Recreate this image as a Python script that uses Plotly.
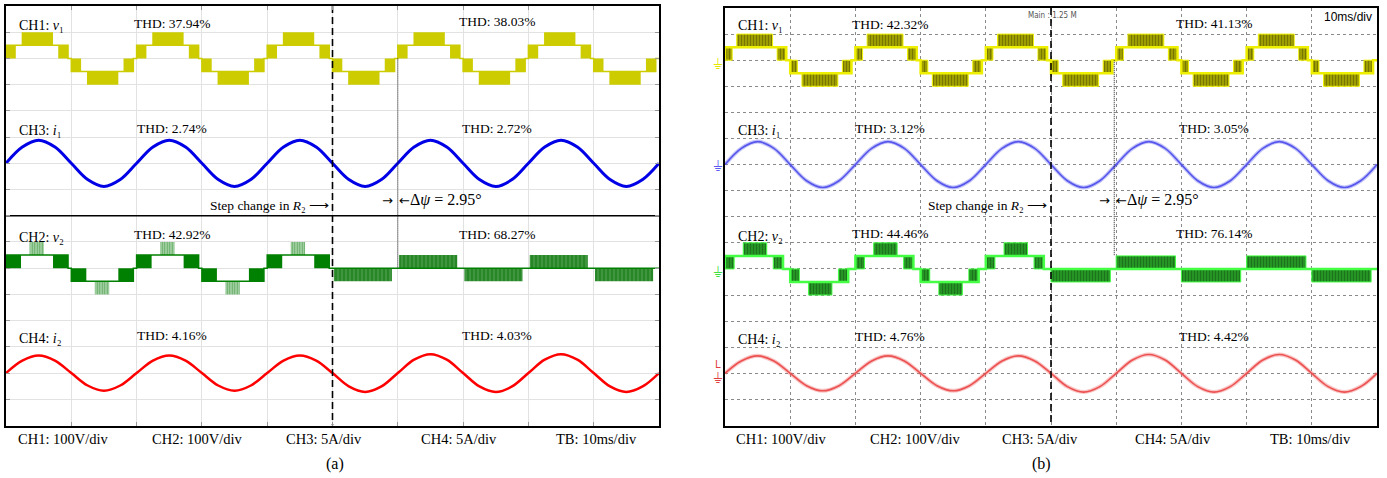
import plotly.graph_objects as go

W, H = 1387, 478

# ---------------- data ----------------
# time base: 10 divisions x 10 ms/div
T_MS = [0.0, 2.5, 5.0, 7.5, 10.0, 12.5, 15.0, 17.5, 20.0, 22.5, 25.0, 27.5, 30.0, 32.5,
        35.0, 37.5, 40.0, 42.5, 45.0, 47.5, 50.0, 52.5, 55.0, 57.5, 60.0, 62.5, 65.0,
        67.5, 70.0, 72.5, 75.0, 77.5, 80.0, 82.5, 85.0, 87.5, 90.0, 92.5, 95.0, 97.5, 100.0]

# half cycles of the 50 Hz fundamental (start ms, polarity, before/after the step)
HALF_T0 = [0, 10, 20, 30, 40, 50, 60, 70, 80, 90]
HALF_SIGN = [1, -1, 1, -1, 1, -1, 1, -1, 1, -1]
HALF_STAGE = ["pre", "pre", "pre", "pre", "pre", "post", "post", "post", "post", "post"]

STEP_T = 50.0          # step change in R2 (ms)
PHASE_T_A = 60.0       # delta-psi marker (ms), panel a
PHASE_T_B = 59.7       # delta-psi marker (ms), panel b

# channel scales (per div) and screen offsets (div)
VDIV, IDIV = 100.0, 5.0
OFF_CH1, OFF_CH3, OFF_CH2, OFF_CH4 = -2.0, -6.0, -10.0, -14.0

# PWM blocks inside one positive half cycle: [start ms, end ms, low V, high V, style]
V1_A_BLOCKS = [[0.0, 1.5, 0, 50, "solid"], [2.4, 7.2, 50, 100, "solid"], [8.0, 9.5, 0, 50, "solid"]]
V1_A_STAIR = [[0.0, 0], [0.0, 50], [9.5, 50], [9.5, 0], [10.0, 0]]
V2_A_PRE_BLOCKS = [[0.0, 2.3, 0, 50, "dense"], [3.6, 5.8, 50, 100, "sparse"], [7.2, 9.5, 0, 50, "dense"]]
V2_A_PRE_STAIR = [[0.0, 0], [0.0, 50], [9.5, 50], [9.5, 0], [10.0, 0]]
V2_A_POST_BLOCKS = [[0.2, 9.1, 0, 50, "mixed"]]
V2_A_POST_STAIR = [[0.0, 0], [10.0, 0]]

V1_B_BLOCKS = [[0.0, 1.1, 0, 50, "pwm"], [1.8, 7.3, 50, 100, "pwm"], [8.0, 9.4, 0, 50, "pwm"]]
V1_B_STAIR = [[0.0, 0], [0.0, 50], [9.4, 50], [9.4, 0], [10.0, 0]]
V2_B_PRE_BLOCKS = [[0.0, 1.4, 0, 50, "pwm"], [2.8, 6.4, 50, 100, "pwm"], [7.4, 8.9, 0, 50, "pwm"]]
V2_B_PRE_STAIR = [[0.0, 0], [0.0, 50], [8.9, 50], [8.9, 0], [10.0, 0]]
V2_B_POST_BLOCKS = [[0.0, 9.1, 0, 50, "pwm"]]
V2_B_POST_STAIR = [[0.0, 0], [10.0, 0]]

# currents (A), read at every 2.5 ms
I1_A = [0.0, 3.1, 4.4, 3.1, 0.0, -3.1, -4.4, -3.1, 0.0, 3.1, 4.4, 3.1, 0.0, -3.1, -4.4, -3.1,
        0.0, 3.1, 4.4, 3.1, 0.0, -3.1, -4.4, -3.1, 0.0, 3.1, 4.4, 3.1, 0.0, -3.1, -4.4, -3.1,
        0.0, 3.1, 4.4, 3.1, 0.0, -3.1, -4.4, -3.1, 0.0]
I2_A = [0.0, 2.37, 3.35, 2.37, 0.0, -2.37, -3.35, -2.37, 0.0, 2.37, 3.35, 2.37, 0.0, -2.37,
        -3.35, -2.37, 0.0, 2.37, 3.35, 2.37, 0.0, -2.55, -3.6, -2.55, 0.0, 2.55, 3.6, 2.55,
        0.0, -2.55, -3.6, -2.55, 0.0, 2.55, 3.6, 2.55, 0.0, -2.55, -3.6, -2.55, 0.0]
I1_B = [0.0, 3.1, 4.4, 3.1, 0.0, -3.1, -4.4, -3.1, 0.0, 3.1, 4.4, 3.1, 0.0, -3.1, -4.4, -3.1,
        0.0, 3.1, 4.4, 3.1, 0.0, -3.1, -4.4, -3.1, 0.0, 3.1, 4.4, 3.1, 0.0, -3.1, -4.4, -3.1,
        0.0, 3.1, 4.4, 3.1, 0.0, -3.1, -4.4, -3.1, 0.0]
I2_B = [0.0, 2.37, 3.35, 2.37, 0.0, -2.37, -3.35, -2.37, 0.0, 2.37, 3.35, 2.37, 0.0, -2.37,
        -3.35, -2.37, 0.0, 2.37, 3.35, 2.37, 0.0, -2.55, -3.6, -2.55, 0.0, 2.55, 3.6, 2.55,
        0.0, -2.55, -3.6, -2.55, 0.0, 2.55, 3.6, 2.55, 0.0, -2.55, -3.6, -2.55, 0.0]

THD_A = {"v1": ["37.94%", "38.03%"], "i1": ["2.74%", "2.72%"],
         "v2": ["42.92%", "68.27%"], "i2": ["4.16%", "4.03%"]}
THD_B = {"v1": ["42.32%", "41.13%"], "i1": ["3.12%", "3.05%"],
         "v2": ["44.46%", "76.14%"], "i2": ["4.76%", "4.42%"]}
SCALE_LABELS = ["CH1: 100V/div", "CH2: 100V/div", "CH3: 5A/div", "CH4: 5A/div", "TB: 10ms/div"]
DPSI = "2.95°"

# ---------------- styles ----------------
STYLE_A = {
    "solid": dict(color="#cccc00", line=dict(width=0)),
    "dense": dict(color="#008000", line=dict(width=0)),
    "sparse": dict(color="#c4e2c4", line=dict(width=0),
                   pattern=dict(shape="|", fgcolor="#067606", bgcolor="#c4e2c4", size=2.5, solidity=0.6)),
    "mixed": dict(color="#007800", line=dict(width=0),
                  pattern=dict(shape="|", fgcolor="#007000", bgcolor="#4f9f4f", size=4, solidity=0.7)),
}
STYLE_B1 = {"pwm": dict(color="#d8d800", line=dict(width=1, color="#f2f200"),
                        pattern=dict(shape="|", fgcolor="#1c1c00", bgcolor="#d0d000", size=3, solidity=0.72))}
STYLE_B2 = {"pwm": dict(color="#30d030", line=dict(width=1, color="#44ff44"),
                        pattern=dict(shape="|", fgcolor="#082808", bgcolor="#30c030", size=3, solidity=0.72))}


def voltage_traces(blocks, stairs, styles, offset, xa, ya, lcolor, lwidth):
    bars = {}
    sx, sy = [], []
    for t0, sgn, stage in zip(HALF_T0, HALF_SIGN, HALF_STAGE):
        for s, e, lo, hi, sty in blocks[stage]:
            a, b = (lo, hi) if sgn > 0 else (-hi, -lo)
            d = bars.setdefault(sty, {"x": [], "w": [], "b": [], "h": []})
            d["x"].append(t0 + (s + e) / 2)
            d["w"].append(e - s)
            d["b"].append(offset + a / VDIV)
            d["h"].append((b - a) / VDIV)
        for dt, lv in stairs[stage]:
            sx.append(t0 + dt)
            sy.append(offset + sgn * lv / VDIV)
    out = []
    for sty, d in bars.items():
        out.append(go.Bar(x=d["x"], y=d["h"], base=d["b"], width=d["w"], marker=styles[sty],
                          xaxis=xa, yaxis=ya, hoverinfo="skip", showlegend=False))
    out.append(go.Scatter(x=sx, y=sy, mode="lines", line=dict(color=lcolor, width=lwidth),
                          xaxis=xa, yaxis=ya, hoverinfo="skip", showlegend=False))
    return out


def current_trace(vals, offset, xa, ya, color, width):
    return go.Scatter(x=T_MS, y=[offset + v / IDIV for v in vals], mode="lines",
                      line=dict(color=color, width=width, shape="spline", smoothing=1.0),
                      xaxis=xa, yaxis=ya, hoverinfo="skip", showlegend=False)


def vline(t, y0, y1, xa, ya, dash, width, color="black"):
    return go.Scatter(x=[t, t], y=[y0, y1], mode="lines",
                      line=dict(color=color, width=width, dash=dash),
                      xaxis=xa, yaxis=ya, hoverinfo="skip", showlegend=False)


traces = []
# panel (a)
traces += voltage_traces({"pre": V1_A_BLOCKS, "post": V1_A_BLOCKS},
                         {"pre": V1_A_STAIR, "post": V1_A_STAIR}, STYLE_A, OFF_CH1, "x", "y", "#cccc00", 1.5)
traces += voltage_traces({"pre": V2_A_PRE_BLOCKS, "post": V2_A_POST_BLOCKS},
                         {"pre": V2_A_PRE_STAIR, "post": V2_A_POST_STAIR}, STYLE_A, OFF_CH2, "x", "y", "#008000", 1.5)
traces.append(current_trace(I1_A, OFF_CH3, "x", "y", "#0000e6", 3))
traces.append(current_trace(I2_A, OFF_CH4, "x", "y", "#ff0000", 2.5))
traces.append(go.Scatter(x=[0, 100], y=[-8, -8], mode="lines", line=dict(color="black", width=1.3),
                         xaxis="x", yaxis="y", hoverinfo="skip", showlegend=False))
traces.append(vline(STEP_T, 0, -16, "x", "y", "7px,4px", 1.6))
traces.append(vline(PHASE_T_A, OFF_CH1, OFF_CH2, "x", "y", "1px,1px", 1, "#222"))

# panel (b)
traces += voltage_traces({"pre": V1_B_BLOCKS, "post": V1_B_BLOCKS},
                         {"pre": V1_B_STAIR, "post": V1_B_STAIR}, STYLE_B1, OFF_CH1, "x2", "y2", "#eeee00", 2.5)
traces += voltage_traces({"pre": V2_B_PRE_BLOCKS, "post": V2_B_POST_BLOCKS},
                         {"pre": V2_B_PRE_STAIR, "post": V2_B_POST_STAIR}, STYLE_B2, OFF_CH2, "x2", "y2", "#44ff44", 2.5)
traces.append(current_trace(I1_B, OFF_CH3, "x2", "y2", "rgba(90,90,240,0.35)", 4))
traces.append(current_trace(I1_B, OFF_CH3, "x2", "y2", "rgba(80,80,235,0.95)", 1.6))
traces.append(current_trace(I2_B, OFF_CH4, "x2", "y2", "rgba(240,90,90,0.35)", 4))
traces.append(current_trace(I2_B, OFF_CH4, "x2", "y2", "rgba(235,75,75,0.95)", 1.6))
traces.append(vline(STEP_T, 0, -16, "x2", "y2", "7px,4px", 1.6))
traces.append(vline(PHASE_T_B, OFF_CH1, OFF_CH2 + 0.5, "x2", "y2", "1px,1px", 1, "#222"))

fig = go.Figure(traces)


def px(x):
    return x / W


def py(y):
    return 1 - y / H


SERIF = "Liberation Serif, Times New Roman, serif"
anns = []


def ann(text, x, y, size, xanchor="center", family=SERIF, color="black"):
    anns.append(dict(text=text, x=px(x), y=py(y), xref="paper", yref="paper", showarrow=False,
                     xanchor=xanchor, yanchor="middle", font=dict(family=family, size=size, color=color)))


def ital(ch, size):
    return "<span style='font-style:italic;font-size:%gpx'>%s</span>" % (size, ch)


def panel_text(x0, thd, xl, xr, step_x, phase_x, ys):
    ann("CH1: " + ital("v", 14) + "₁", x0, ys[0], 14, "left")
    ann("THD: " + thd["v1"][0], xl, ys[0] - 2, 13.5)
    ann("THD: " + thd["v1"][1], xr, ys[0] - 3, 13.5)
    ann("CH3: " + ital("i", 14) + "₁", x0, ys[1], 14, "left")
    ann("THD: " + thd["i1"][0], xl, ys[1] - 3, 13.5)
    ann("THD: " + thd["i1"][1], xr, ys[1] - 3, 13.5)
    ann("Step change in " + ital("R", 13.5) + "₂ ⟶", step_x, 205, 13.5, "right")
    ann("→", phase_x - 1, 200, 13, "right", family="DejaVu Sans")
    ann("←", phase_x + 1, 200, 13, "left", family="DejaVu Sans")
    ann("Δ" + ital("ψ", 16) + " = " + DPSI, phase_x + 12, 200, 16, "left")
    ann("CH2: " + ital("v", 14) + "₂", x0, ys[2], 14, "left")
    ann("THD: " + thd["v2"][0], xl, ys[2] - 3, 13.5)
    ann("THD: " + thd["v2"][1], xr, ys[2] - 3, 13.5)
    ann("CH4: " + ital("i", 14) + "₂", x0, ys[3], 14, "left")
    ann("THD: " + thd["i2"][0], xl, ys[3] - 3, 13.5)
    ann("THD: " + thd["i2"][1], xr, ys[3] - 3, 13.5)


panel_text(17, THD_A, 172, 497, 331, 396, [25, 131, 237, 338])
panel_text(736, THD_B, 890, 1214, 1049, 1113, [26, 131, 236, 339])

for lab, xa in zip(SCALE_LABELS, [63, 197, 324, 459, 596]):
    ann(lab, xa, 439, 14.5)
for lab, xb in zip(SCALE_LABELS, [781, 915, 1040, 1173, 1310]):
    ann(lab, xb, 439, 14.5)
ann("(a)", 335, 464, 16)
ann("(b)", 1041, 464, 16)
ann("Main : 1.25 M", 1052, 15, 8, family="DejaVu Sans Condensed, DejaVu Sans", color="#555")
ann("10ms/div", 1374, 17, 12, "right", family="Liberation Sans Narrow, Liberation Sans, sans-serif")
ann("⏚", 718, 64, 14, family="DejaVu Sans", color="#e6e600")
ann("⏚", 718, 166, 14, family="DejaVu Sans", color="#5a5af0")
ann("⏚", 718, 272, 14, family="DejaVu Sans", color="#40e040")
ann("L", 718, 364, 10, family="DejaVu Sans", color="#e04040")
ann("⏚", 718, 378, 14, family="DejaVu Sans", color="#e04040")

ax_common = dict(range=[0, 100], dtick=10, tick0=0, showticklabels=False, zeroline=False,
                 showline=True, linecolor="black", linewidth=1.5, fixedrange=True)
ay_common = dict(range=[-16, 0], dtick=1, tick0=0, showticklabels=False, zeroline=False,
                 showline=True, linecolor="black", linewidth=1.5, fixedrange=True)

fig.update_layout(
    width=W, height=H, autosize=False, margin=dict(l=0, r=0, t=0, b=0),
    paper_bgcolor="white", plot_bgcolor="white", barmode="overlay", showlegend=False,
    annotations=anns,
    xaxis=dict(domain=[px(6), px(659)], anchor="y", showgrid=True, gridcolor="#e2e2e2",
               ticks="inside", ticklen=4, tickcolor="#999", mirror="ticks", **ax_common),
    yaxis=dict(domain=[py(425.5), py(6)], anchor="x", showgrid=True, gridcolor="#e2e2e2",
               ticks="inside", ticklen=4, tickcolor="#999", mirror="ticks", **ay_common),
    xaxis2=dict(domain=[px(725), px(1377)], anchor="y2", showgrid=True, gridcolor="#8a8a8a",
                griddash="dot", gridwidth=1, ticks="", mirror=True, **ax_common),
    yaxis2=dict(domain=[py(425.5), py(8)], anchor="x2", showgrid=True, gridcolor="#8a8a8a",
                griddash="dot", gridwidth=1, ticks="", mirror=True, **ay_common),
)

fig.write_html("out.html", config={"displayModeBar": False},
               post_script="document.body.style.margin='0px';")
